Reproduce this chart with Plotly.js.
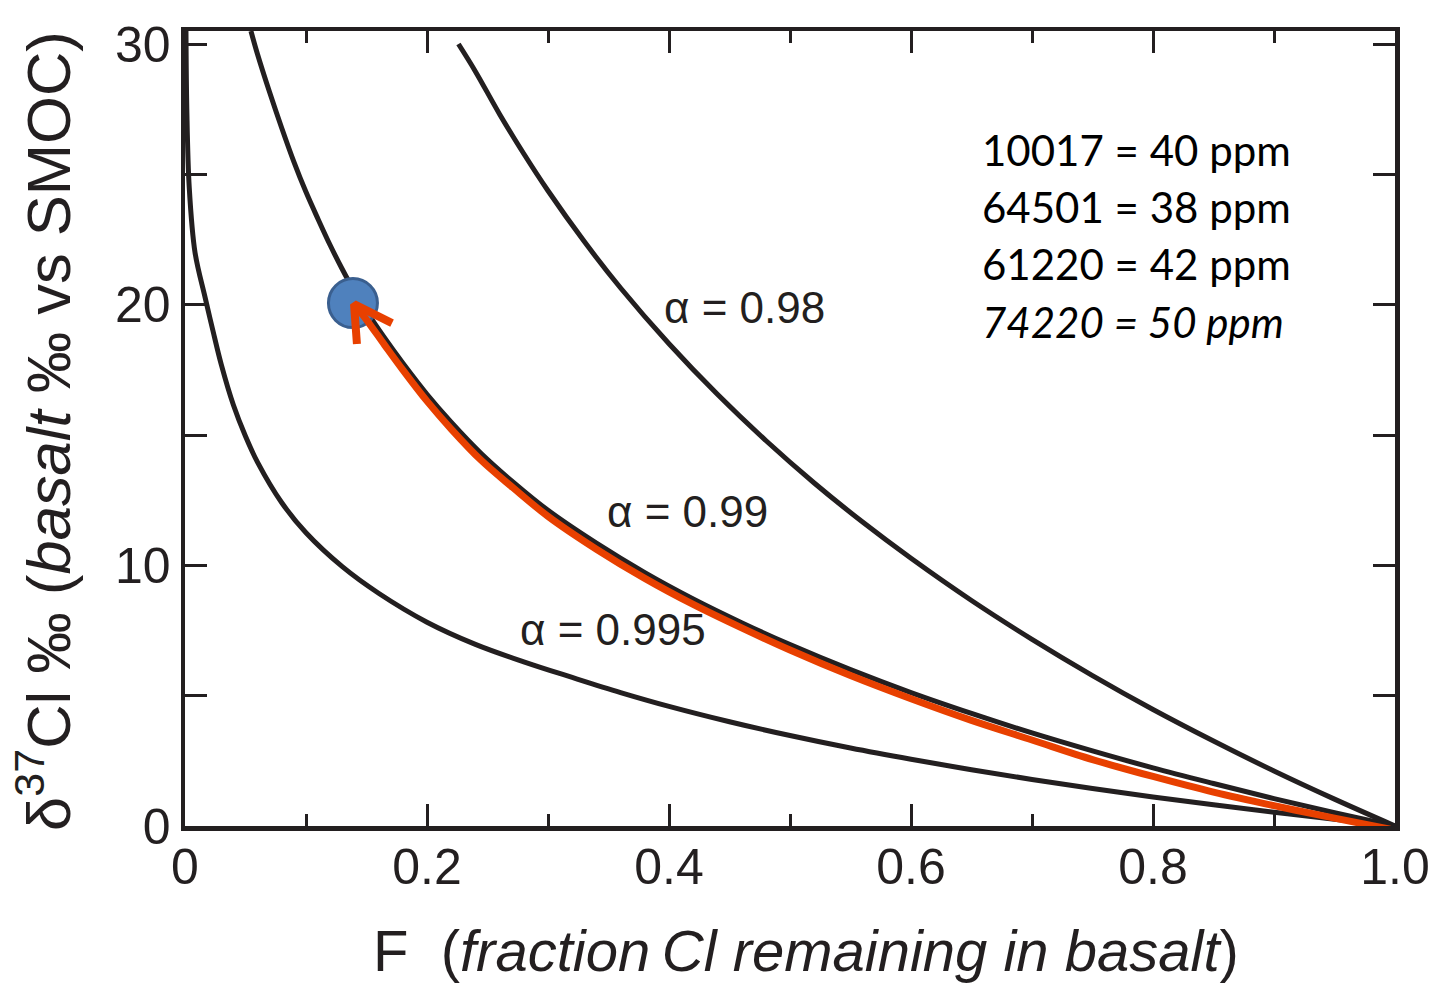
<!DOCTYPE html>
<html><head><meta charset="utf-8">
<script src="https://cdn.plot.ly/plotly-3.0.1.min.js"></script>
<style>html,body{margin:0;padding:0;background:#fff;}#chart{width:1447px;height:983px;}</style>
</head><body><div id="chart"></div>
<script>
// alpha = 0.98 curve
const fAlpha098 = [0.226, 0.24, 0.26, 0.28, 0.30, 0.33, 0.36, 0.40, 0.44, 0.48, 0.52, 0.56, 0.60, 0.65, 0.70, 0.75, 0.80, 0.85, 0.90, 0.95, 1.0];
const dAlpha098 = [30.0, 28.95, 27.31, 25.79, 24.37, 22.42, 20.64, 18.50, 16.56, 14.79, 13.16, 11.66, 10.27, 8.65, 7.16, 5.77, 4.47, 3.26, 2.11, 1.03, 0];
// alpha = 0.99 curve
const fAlpha099 = [0.0545, 0.06, 0.07, 0.08, 0.09, 0.10, 0.11, 0.12, 0.13, 0.14, 0.15, 0.165, 0.18, 0.20, 0.22, 0.245, 0.271, 0.30, 0.34, 0.38, 0.42, 0.46, 0.50, 0.55, 0.60, 0.65, 0.70, 0.75, 0.80, 0.85, 0.90, 0.95, 1.0];
const dAlpha099 = [30.5, 29.6, 28.14, 26.77, 25.48, 24.32, 23.28, 22.28, 21.36, 20.51, 19.75, 18.72, 17.76, 16.56, 15.49, 14.28, 13.2, 12.11, 10.85, 9.72, 8.71, 7.80, 6.96, 6.00, 5.12, 4.32, 3.57, 2.88, 2.23, 1.63, 1.05, 0.51, 0];
// alpha = 0.995 curve
const fAlpha0995 = [0.0008, 0.0015, 0.0035, 0.0083, 0.0165, 0.0231, 0.03, 0.04, 0.05, 0.06, 0.08, 0.10, 0.13, 0.16, 0.20, 0.24, 0.28, 0.32, 0.36, 0.40, 0.45, 0.50, 0.55, 0.60, 0.65, 0.70, 0.75, 0.80, 0.85, 0.90, 0.95, 1.0];
const dAlpha0995 = [30.5, 27.5, 24.5, 22.0, 20.3, 19.0, 17.7, 16.15, 14.95, 13.95, 12.4, 11.25, 9.95, 8.93, 7.82, 6.97, 6.3, 5.7, 5.12, 4.59, 4.00, 3.47, 2.99, 2.56, 2.16, 1.785, 1.44, 1.116, 0.813, 0.527, 0.257, 0];
// highlighted (red) path
const fRed = [0.141, 0.15, 0.165, 0.18, 0.20, 0.22, 0.245, 0.271, 0.30, 0.34, 0.38, 0.42, 0.46, 0.50, 0.55, 0.60, 0.65, 0.70, 0.75, 0.80, 0.85, 0.90, 0.95, 0.996];
const dRed = [19.95, 19.42, 18.45, 17.5, 16.3, 15.23, 14.02, 12.98, 11.88, 10.62, 9.5, 8.5, 7.6, 6.75, 5.77, 4.88, 4.05, 3.3, 2.55, 1.9, 1.3, 0.78, 0.3, -0.12];
// arrow head
const fArrow = [0.1421, 0.1397, 0.1711];
const dArrow = [18.49, 20.02, 19.29];
// sample point
const fPoint = [0.1388];
const dPoint = [20.06];
// labels
const curveLabels = ['α = 0.98', 'α = 0.99', 'α = 0.995'];
const curveLabelX = [0.4628, 0.4153, 0.3537];
const curveLabelY = [19.91, 12.05, 7.52];
const sampleLines = ['10017 = 40 ppm', '64501 = 38 ppm', '61220 = 42 ppm', '<i>74220 = 50 ppm</i>'];
const sampleY = [25.93, 23.75, 21.56, 19.34];
const xTickVals = [0, 0.2, 0.4, 0.6, 0.8, 1.0];
const xTickText = ['0', '0.2', '0.4', '0.6', '0.8', '1.0'];
const yTickVals = [0, 10, 20, 30];

const ink = '#231F20';
const black = {color: ink, width: 5};
const traces = [
  {x: fAlpha098, y: dAlpha098, mode: 'lines', line: Object.assign({shape: 'spline'}, black)},
  {x: fAlpha099, y: dAlpha099, mode: 'lines', line: Object.assign({shape: 'spline'}, black)},
  {x: fAlpha0995, y: dAlpha0995, mode: 'lines', line: Object.assign({shape: 'spline'}, black)},
  {x: fPoint, y: dPoint, mode: 'markers', marker: {size: 49, color: '#4F81BD', line: {color: '#3A5F8F', width: 3}}},
  {x: fRed, y: dRed, mode: 'lines', line: {shape: 'spline', color: '#E84000', width: 7}},
  {x: fArrow, y: dArrow, mode: 'lines', line: {color: '#E84000', width: 8}}
];

const annotations = [];
curveLabels.forEach((t, i) => annotations.push({
  x: curveLabelX[i], y: curveLabelY[i], xref: 'x', yref: 'y', text: t, showarrow: false,
  xanchor: 'center', yanchor: 'middle', font: {family: 'Liberation Sans, Arial, sans-serif', size: 44, color: ink}
}));
sampleLines.forEach((t, i) => annotations.push({
  x: 0.657, y: sampleY[i], xref: 'x', yref: 'y', text: t, showarrow: false,
  xanchor: 'left', yanchor: 'middle', font: {family: 'Lato, sans-serif', size: 42, color: '#000'}
}));
annotations.push({
  x: 0.513, y: -0.156, xref: 'paper', yref: 'paper', showarrow: false, xanchor: 'center', yanchor: 'middle',
  text: 'F\u00a0\u00a0(<i>fraction\u2009Cl remaining in basalt</i>)',
  font: {family: 'Liberation Sans, Arial, sans-serif', size: 58, color: ink}
});
annotations.push({
  x: -0.1165, y: 0.497, xref: 'paper', yref: 'paper', showarrow: false, xanchor: 'center', yanchor: 'middle', textangle: -90,
  text: 'δ<sup>37</sup>Cl ‰ (<i>basalt</i> ‰ vs SMOC)',
  font: {family: 'Liberation Sans, Arial, sans-serif', size: 61.5, color: ink}
});

const layout = {
  width: 1447, height: 983,
  margin: {l: 185, r: 52, t: 31, b: 157},
  paper_bgcolor: '#fff', plot_bgcolor: '#fff',
  showlegend: false,
  font: {family: 'Liberation Sans, Arial, sans-serif', color: ink},
  xaxis: {
    range: [0, 1], tickvals: xTickVals, ticktext: xTickText,
    ticks: 'inside', ticklen: 22, tickwidth: 3, tickcolor: ink,
    showline: true, linewidth: 4.5, linecolor: ink, mirror: 'allticks',
    showgrid: false, zeroline: false, ticklabelstandoff: -7,
    tickfont: {size: 50, color: ink},
    minor: {dtick: 0.1, tick0: 0, ticks: 'inside', ticklen: 12, tickwidth: 3, tickcolor: ink, showgrid: false}
  },
  yaxis: {
    range: [0, 30.5], tickvals: yTickVals,
    ticks: 'inside', ticklen: 22, tickwidth: 3, tickcolor: ink,
    showline: true, linewidth: 4.5, linecolor: ink, mirror: 'allticks',
    showgrid: false, zeroline: false,
    tickfont: {size: 50, color: ink},
    minor: {dtick: 5, tick0: 0, ticks: 'inside', ticklen: 22, tickwidth: 3, tickcolor: ink, showgrid: false}
  },
  annotations: annotations
};

Plotly.newPlot('chart', traces, layout, {displayModeBar: false, staticPlot: true});
</script>
</body></html>
